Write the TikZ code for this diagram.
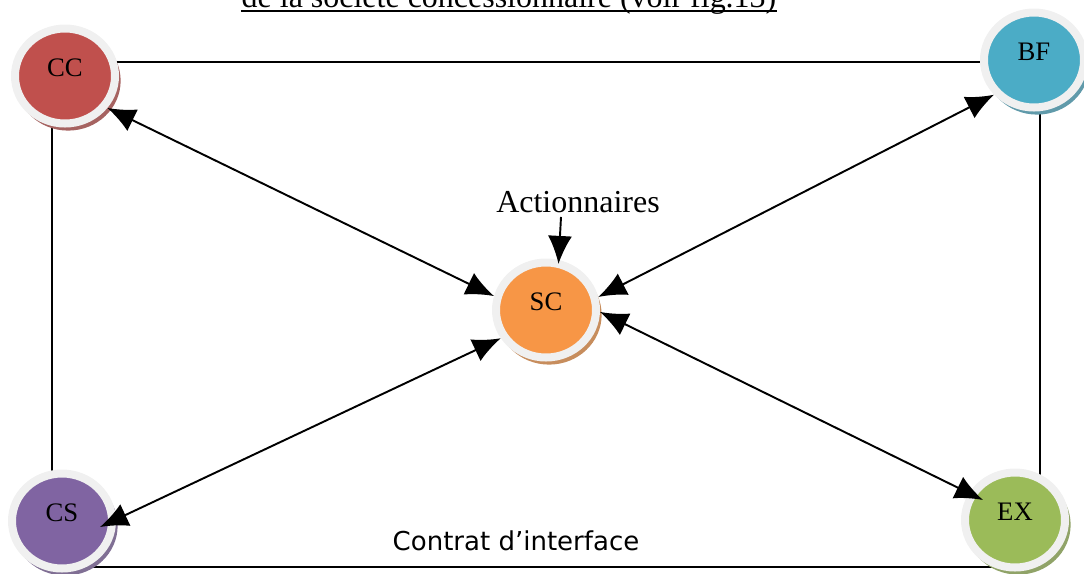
\documentclass[tikz,border=0pt]{standalone}
\usepackage{fontspec}
\setmainfont{Liberation Serif}
\newfontfamily\sansfont{DejaVu Sans}
\usetikzlibrary{arrows.meta,shapes.geometric,shadows,backgrounds}

\definecolor{ccred}{HTML}{C0504D}
\definecolor{bfblue}{HTML}{4BACC6}
\definecolor{scorange}{HTML}{F79646}
\definecolor{cspurple}{HTML}{8064A2}
\definecolor{exgreen}{HTML}{9BBB59}
\definecolor{ringgray}{HTML}{F0F0F0}

\tikzset{
    acteur/.style={ellipse,draw=ringgray,line width=0.8mm,fill=#1,
        minimum width=10mm,minimum height=9.5mm,inner sep=0pt,
        drop shadow={shadow xshift=0.3mm,shadow yshift=-0.45mm,shadow scale=1.05,
            fill=#1!60!gray,opacity=1}},
    sigle/.style={font=\fontsize{7.6pt}{8pt}\selectfont,inner sep=0pt,yshift=0.8mm},
    texte/.style={font=\fontsize{9.1pt}{10pt}\selectfont,inner sep=1pt},
    lien/.style={line width=0.55pt},
}

\begin{document}
\begin{tikzpicture}[x=0.1mm,y=-0.1mm,>={Latex[length=2.8mm,width=2.4mm]}]
    \useasboundingbox (0,0) rectangle (1084,573);
    % acteurs
    \node[acteur=ccred,label={[sigle,name=CCt]center:CC}] (CC) at (65,76) {};
    \node[acteur=bfblue,label={[sigle,name=BFt]center:BF}] (BF) at (1034,60) {};
    \node[acteur=scorange,label={[sigle,name=SCt]center:SC}] (SC) at (546,310) {};
    \node[acteur=cspurple,label={[sigle,name=CSt]center:CS}] (CS) at (62,521) {};
    \node[acteur=exgreen,label={[sigle,name=EXt]center:EX}] (EX) at (1015,520) {};
    % textes
    \node[texte,inner xsep=0pt,anchor=base] (titre) at (509,7) {de la société concessionnaire (voir fig.13)};
    \draw[lien] ([yshift=-0.4mm]titre.base west) -- ([yshift=-0.4mm]titre.base east);
    \node[texte] (act) at (578,202) {Actionnaires};
    \node[font=\sansfont\fontsize{7.4pt}{8pt}\selectfont,inner sep=1pt] (contrat) at (516,541) {Contrat d’interface};
    % cadre
    \begin{scope}[on background layer]
        \draw[lien] ([yshift=-0.2mm]BF.center) -- ([yshift=-0.2mm]BF.center -| CC.center);
        \draw[lien] ([xshift=-1.3mm]CC.center) -- ([xshift=-1.3mm]CC.center |- CS.center);
        \draw[lien] ([xshift=0.6mm]BF.center) -- ([xshift=0.6mm]BF.center |- EX.center);
        \draw[lien] ([yshift=-4.6mm]CS.center) -- ([yshift=-4.6mm]CS.center -| BF.center) -- ++(6,0);
    \end{scope}
    % fleches
    \draw[lien,<->] (CC.-37) -- (SC.165);
    \draw[lien,<->] (BF.221) -- (SC.14);
    \draw[lien,<->] ([shift={(38,6)}]CS.center) -- (SC.212);
    \draw[lien,<->] (SC.-2) -- ([shift={(-32,-20)}]EX.center);
    \draw[lien,->] ([xshift=-1.7mm]act.south) -- ([yshift=-0.4mm]SC.76);
\end{tikzpicture}
\end{document}
